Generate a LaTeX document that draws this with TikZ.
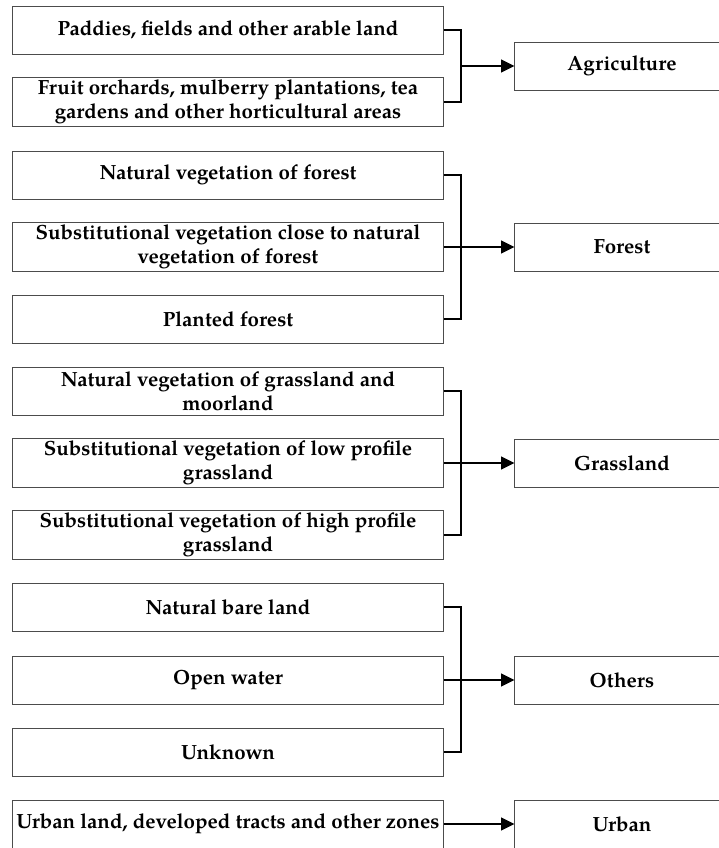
\documentclass[tikz,border=0pt]{standalone}
\usepackage{fontspec}
\setmainfont{TeX Gyre Pagella}
\usetikzlibrary{arrows.meta}
\begin{document}
\begin{tikzpicture}[x=0.025cm,y=-0.025cm,link/.style={line
        width=1.4pt},arr/.style={line width=1.4pt,-{Triangle[length=9.5pt,
        width=9pt]}}]
    \tikzstyle{source}=[draw=black!70,line width=0.7pt,minimum width=10.75cm,minimum height=1.2cm,inner xsep=0pt,inner ysep=2pt,align=center,font=\fontsize{14.6}{17}\selectfont\bfseries]
    \tikzstyle{target}=[source,minimum width=5.35cm]
    \useasboundingbox (0,0) rectangle (718,848);

    \node[source] (paddy) at (228,30) {Paddies, fields and other arable land};
    \node[source] (fruit) at (228,102) {Fruit orchards, mulberry plantations, tea\\gardens and other horticultural areas};
    \node[target] (agri) at (622,66) {Agriculture};
    \coordinate (agrij) at (461,66);

    \node[source] (natf) at (228,175) {Natural vegetation of forest};
    \node[source] (subf) at (228,247) {Substitutional vegetation close to natural\\vegetation of forest};
    \node[source] (plant) at (228,319) {Planted forest};
    \node[target] (forest) at (622,247) {Forest};
    \coordinate (forj) at (461,247);

    \node[source] (natg) at (228,391) {Natural vegetation of grassland and\\moorland};
    \node[source] (lowg) at (228,463) {Substitutional vegetation of low profile\\grassland};
    \node[source] (highg) at (228,535) {Substitutional vegetation of high profile\\grassland};
    \node[target] (grass) at (622,463) {Grassland};
    \coordinate (grassj) at (461,463);

    \node[source] (bare) at (228,607) {Natural bare land};
    \node[source] (water) at (228,680) {Open water};
    \node[source] (unk) at (228,752) {Unknown};
    \node[target] (others) at (622,680) {Others};
    \coordinate (othj) at (461,680);

    \node[source] (urbl) at (228,824) {Urban land, developed tracts and other zones};
    \node[target] (urban) at (622,824) {Urban};

    \draw[link] (paddy.east) -| (agrij) |- (fruit.east);
    \draw[arr] (agrij) -- (agri.west);

    \draw[link] (natf.east) -| (forj) |- (plant.east);
    \draw[link] (subf.east) -- (forj);
    \draw[arr] (forj) -- (forest.west);

    \draw[link] (natg.east) -| (grassj) |- (highg.east);
    \draw[link] (lowg.east) -- (grassj);
    \draw[arr] (grassj) -- (grass.west);

    \draw[link] (bare.east) -| (othj) |- (unk.east);
    \draw[link] (water.east) -- (othj);
    \draw[arr] (othj) -- (others.west);

    \draw[arr] (urbl.east) -- (urban.west);

\end{tikzpicture}
\end{document}
